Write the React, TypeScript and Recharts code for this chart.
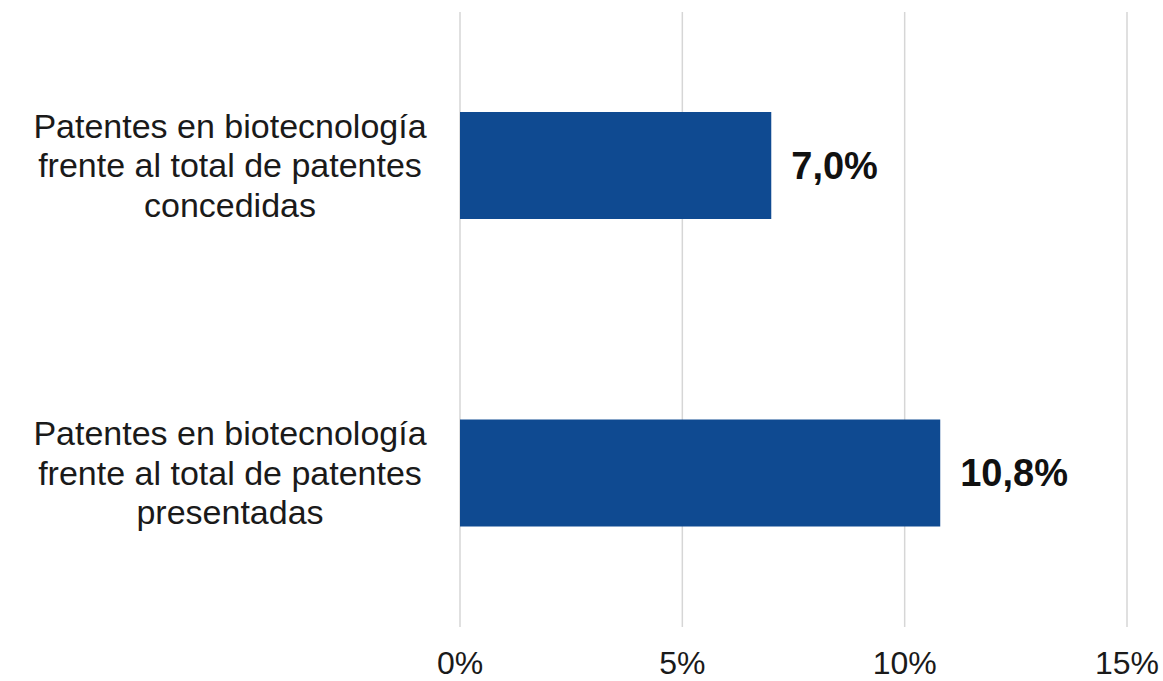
import React from "react";
import { BarChart, Bar, XAxis, YAxis, CartesianGrid, LabelList } from "recharts";

const categories = [
  "Patentes en biotecnología\nfrente al total de patentes\nconcedidas",
  "Patentes en biotecnología\nfrente al total de patentes\npresentadas",
];
const values = [7.0, 10.8];
const xTicks = [0, 5, 10, 15];

const data = categories.map((name, i) => ({ name, value: values[i] }));

const FONT = '"Liberation Sans", Arial, Helvetica, sans-serif';

const CategoryTick = (props: any) => {
  const { x, y, payload } = props;
  const lines = String(payload.value).split("\n");
  const offsets = [-28, 11.5, 51];
  return (
    <g>
      {lines.map((line: string, i: number) => (
        <text
          key={i}
          x={x - 230}
          y={y + offsets[i]}
          textAnchor="middle"
          fontFamily={FONT}
          fontSize={34}
          fill="#1a1a1a"
        >
          {line}
        </text>
      ))}
    </g>
  );
};

const fmtValue = (v: any) => Number(v).toFixed(1).replace(".", ",") + "%";

export default function App() {
  return (
    <div style={{ position: "absolute", left: 0, top: 0, width: 1163, height: 681, overflow: "hidden" }}>
      <BarChart
        width={1163}
        height={681}
        data={data}
        layout="vertical"
        margin={{ top: 12, right: 36, bottom: 0, left: 0 }}
      >
        <CartesianGrid horizontal={false} stroke="#d6d6d6" strokeWidth={1.5} />
        <XAxis
          type="number"
          domain={[0, 15]}
          ticks={xTicks}
          tickFormatter={(v: number) => `${v}%`}
          axisLine={false}
          tickLine={false}
          tickSize={0}
          tickMargin={24}
          height={54}
          interval={0}
          tick={{ fontFamily: FONT, fontSize: 32, fill: "#1a1a1a" }}
        />
        <YAxis
          type="category"
          dataKey="name"
          width={460}
          axisLine={false}
          tickLine={false}
          tickSize={0}
          tickMargin={0}
          tick={<CategoryTick />}
        />
        <Bar dataKey="value" fill="#0f4a91" barSize={107} isAnimationActive={false}>
          <LabelList
            dataKey="value"
            position="right"
            offset={20}
            formatter={fmtValue}
            style={{ fontFamily: FONT, fontSize: 38, fontWeight: 700, fill: "#111" }}
          />
        </Bar>
      </BarChart>
    </div>
  );
}
